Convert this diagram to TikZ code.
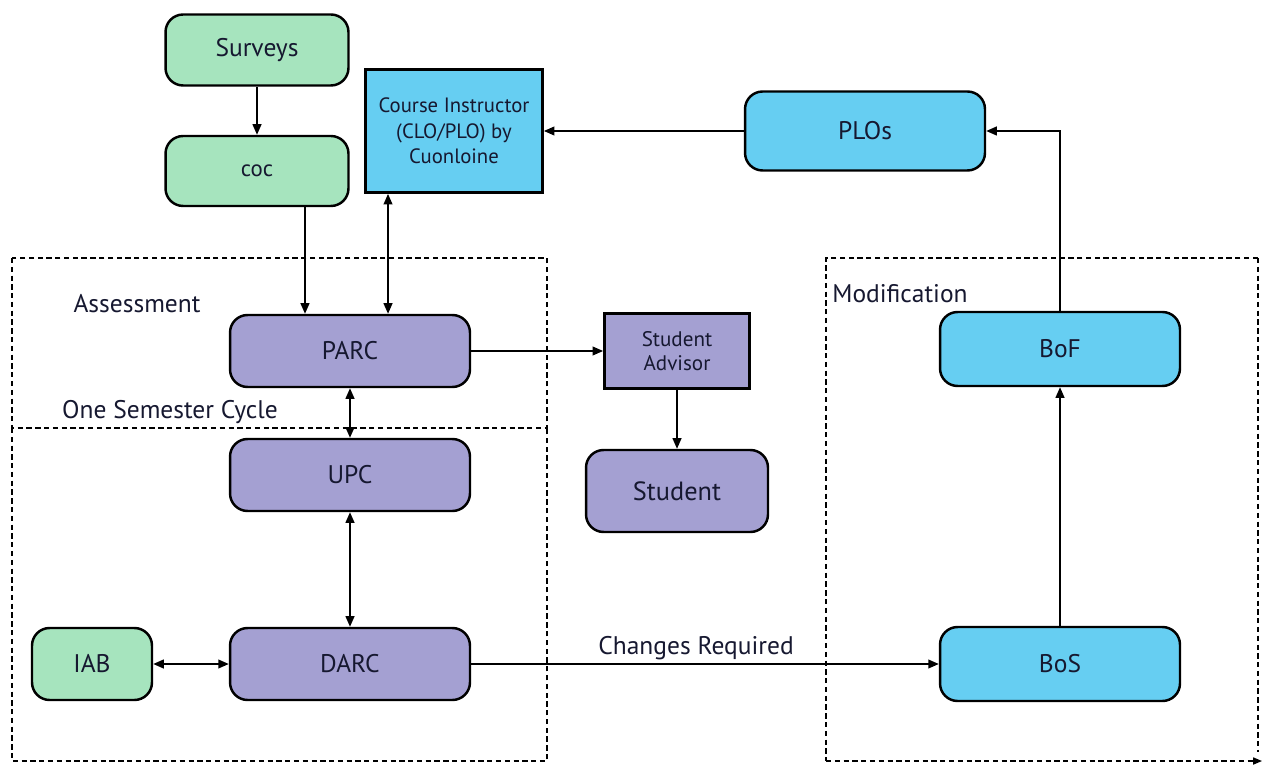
\documentclass[tikz,border=0pt]{standalone}
\usepackage{fontspec}
\setmainfont{PT Sans}
\usetikzlibrary{arrows.meta}
\usepackage{xcolor}
\definecolor{boxgreen}{RGB}{166, 228, 190}
\definecolor{boxpurple}{RGB}{164, 160, 210}
\definecolor{boxblue}{RGB}{102, 206, 242}
\definecolor{inktext}{RGB}{22, 24, 48}

\begin{document}
\begin{tikzpicture}[
    x=0.02cm, y=-0.02cm,
    font=\fontsize{14.5}{17}\selectfont,
    box/.style={draw, line width=1.4pt, rounded corners=10pt, fill=#1,
        text=inktext, align=center, minimum width=4.8cm, minimum height=1.44cm},
    box/.default=boxpurple,
    sqbox/.style={draw, line width=1.6pt, fill=#1, text=inktext, align=center},
    zone/.style={draw, dash pattern=on 3pt off 2pt, line width=0.8pt},
    link/.style={-{Triangle[length=6pt, width=5pt]}, line width=0.9pt},
    twoway/.style={{Triangle[length=6pt, width=5pt]}-{Triangle[length=6pt, width=5pt]}, line width=0.9pt}
]
    \useasboundingbox (0, 0) rectangle (1263, 766);

    % ==========================================
    % ZONES (dashed frames)
    % ==========================================
    \draw[zone] (12, 258) rectangle (547, 428);
    \draw[zone] (12, 428) -- (12, 761) -- (547, 761) -- (547, 428);
    \draw[zone] (1258, 258) -- (826, 258) -- (826, 761);
    \draw[zone] (1258, 258) -- (1258, 752);
    \draw[zone, -{Triangle[length=5pt, width=4pt]}] (826, 761) -- (1262, 761);

    \node[text=inktext] (assess_lbl) at (137, 304) {Assessment};
    \node[text=inktext] (cycle_lbl)  at (170, 412) {One Semester Cycle};
    \node[text=inktext] (modif_lbl)  at (900, 294) {Modification};

    % ==========================================
    % INPUTS (top left)
    % ==========================================
    \node[box=boxgreen, minimum width=3.66cm, minimum height=1.42cm] (surveys) at (257, 50)  {Surveys};
    \node[box=boxgreen, minimum width=3.66cm, minimum height=1.40cm,
          font=\fontsize{13}{15}\selectfont] (coc) at (257, 171) {coc};
    \node[sqbox=boxblue, minimum width=3.54cm, minimum height=2.46cm,
          font=\fontsize{11.8}{14.5}\selectfont] (instructor) at (454, 131)
          {Course Instructor\\(CLO/PLO) by\\Cuonloine};
    \node[box=boxblue, minimum height=1.58cm] (plos) at (865, 131) {PLOs};

    % ==========================================
    % ASSESSMENT / ONE SEMESTER CYCLE
    % ==========================================
    \node[box] (parc) at (350, 351) {PARC};
    \node[box] (upc)  at (350, 475) {UPC};
    \node[box] (darc) at (350, 664) {DARC};
    \node[box=boxgreen, minimum width=2.4cm] (iab) at (92, 664) {IAB};

    \node[sqbox=boxpurple, minimum width=2.9cm, minimum height=1.5cm,
          font=\fontsize{12}{14}\selectfont] (advisor) at (677, 351) {Student\\Advisor};
    \node[box, minimum width=3.64cm, minimum height=1.64cm,
          font=\fontsize{15}{17}\selectfont] (student) at (677, 491) {Student};

    % ==========================================
    % MODIFICATION
    % ==========================================
    \node[box=boxblue, minimum height=1.48cm] (bof) at (1060, 349) {BoF};
    \node[box=boxblue, minimum height=1.48cm] (bos) at (1060, 664) {BoS};

    % ==========================================
    % CONNECTIONS
    % ==========================================
    \draw[link] (surveys) -- (coc);
    \draw[link] ([xshift=0.96cm]coc.south) -- ([xshift=0.96cm]coc.south |- parc.north);
    \draw[twoway] ([xshift=-1.32cm]instructor.south) -- ([xshift=-1.32cm]instructor.south |- parc.north);
    \draw[link] (plos) -- (instructor);
    \draw[link] (bof.north) |- (plos.east);
    \draw[link] (bos) -- (bof);

    \draw[link] (parc) -- (advisor);
    \draw[link] (advisor) -- (student);

    \draw[twoway] (parc) -- (upc);
    \draw[twoway] (upc) -- (darc);
    \draw[twoway] (iab) -- (darc);

    \draw[link] (darc) -- (bos)
        node[midway, above, xshift=-0.18cm, inner sep=2pt, text=inktext] {Changes Required};

\end{tikzpicture}
\end{document}
